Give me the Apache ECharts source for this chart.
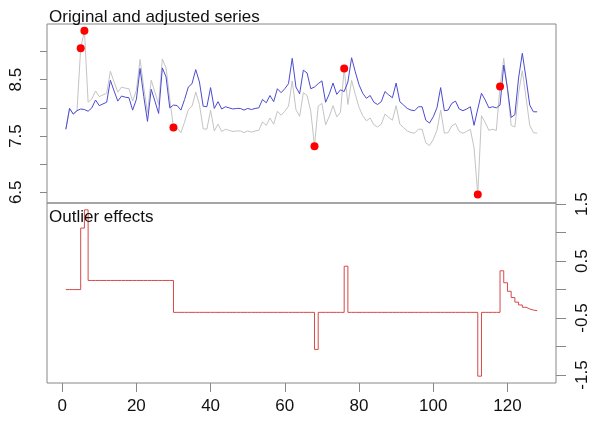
<!DOCTYPE html>
<html>
<head>
<meta charset="utf-8">
<script src="https://cdn.jsdelivr.net/npm/echarts@6/dist/echarts.min.js"></script>
<style>
  html, body { margin: 0; padding: 0; background: #fff; }
  #main { width: 592px; height: 426px; }
</style>
</head>
<body>
<div id="main"></div>
<script>
// series, t = 1..128
const original = [
  7.62, 7.99, 7.89, 7.95, 9.06, 9.37, 8.10, 8.16, 8.30, 8.20,
  8.23, 8.26, 8.65, 8.46, 8.28, 8.37, 8.35, 8.34, 8.12, 8.31,
  8.86, 8.36, 7.92, 8.49, 8.28, 8.06, 8.87, 8.71, 8.16, 7.65,
  7.64, 7.56, 7.75, 7.97, 8.03, 8.28, 8.06, 7.63, 7.62, 7.96,
  7.59, 7.71, 7.58, 7.62, 7.60, 7.58, 7.59, 7.59, 7.56, 7.59,
  7.57, 7.59, 7.60, 7.75, 7.69, 7.82, 7.71, 7.94, 7.87, 7.94,
  8.03, 8.48, 7.97, 7.85, 8.27, 8.22, 7.94, 7.32, 8.03, 8.08,
  7.70, 7.85, 8.04, 7.84, 7.92, 8.70, 8.06, 8.49, 8.24, 8.01,
  7.86, 7.77, 7.82, 7.70, 7.66, 7.71, 7.89, 7.83, 7.78, 8.04,
  7.71, 7.65, 7.59, 7.56, 7.55, 7.62, 7.62, 7.38, 7.33, 7.44,
  7.60, 7.96, 7.55, 7.56, 7.68, 7.72, 7.58, 7.55, 7.58, 7.62,
  7.29, 6.46, 7.86, 7.74, 7.60, 7.62, 7.60, 8.38, 8.88, 8.32,
  7.69, 7.66, 8.26, 8.66, 8.19, 7.69, 7.56, 7.55
]
const adjusted = [
  7.62, 7.99, 7.89, 7.95, 7.98, 7.97, 7.94, 8.00, 8.14, 8.04,
  8.07, 8.10, 8.49, 8.30, 8.12, 8.21, 8.19, 8.18, 7.96, 8.15,
  8.70, 8.20, 7.76, 8.33, 8.12, 7.90, 8.71, 8.55, 8.00, 8.05,
  8.04, 7.96, 8.15, 8.37, 8.43, 8.68, 8.46, 8.03, 8.02, 8.36,
  7.99, 8.11, 7.98, 8.02, 8.00, 7.98, 7.99, 7.99, 7.96, 7.99,
  7.97, 7.99, 8.00, 8.15, 8.09, 8.22, 8.11, 8.34, 8.27, 8.34,
  8.43, 8.88, 8.37, 8.25, 8.67, 8.62, 8.34, 8.37, 8.43, 8.48,
  8.10, 8.25, 8.44, 8.24, 8.32, 8.29, 8.46, 8.89, 8.64, 8.41,
  8.26, 8.17, 8.22, 8.10, 8.06, 8.11, 8.29, 8.23, 8.18, 8.44,
  8.11, 8.05, 7.99, 7.96, 7.95, 8.02, 8.02, 7.78, 7.73, 7.84,
  8.00, 8.36, 7.95, 7.96, 8.08, 8.12, 7.98, 7.95, 7.98, 8.02,
  7.69, 7.98, 8.26, 8.14, 8.00, 8.02, 8.00, 8.05, 8.76, 8.35,
  7.83, 7.88, 8.53, 8.97, 8.53, 8.05, 7.93, 7.93
]
const effects = [
  0, 0, 0, 0, 1.08, 1.40, 0.16, 0.16, 0.16, 0.16,
  0.16, 0.16, 0.16, 0.16, 0.16, 0.16, 0.16, 0.16, 0.16, 0.16,
  0.16, 0.16, 0.16, 0.16, 0.16, 0.16, 0.16, 0.16, 0.16, -0.40,
  -0.40, -0.40, -0.40, -0.40, -0.40, -0.40, -0.40, -0.40, -0.40, -0.40,
  -0.40, -0.40, -0.40, -0.40, -0.40, -0.40, -0.40, -0.40, -0.40, -0.40,
  -0.40, -0.40, -0.40, -0.40, -0.40, -0.40, -0.40, -0.40, -0.40, -0.40,
  -0.40, -0.40, -0.40, -0.40, -0.40, -0.40, -0.40, -1.05, -0.40, -0.40,
  -0.40, -0.40, -0.40, -0.40, -0.40, 0.41, -0.40, -0.40, -0.40, -0.40,
  -0.40, -0.40, -0.40, -0.40, -0.40, -0.40, -0.40, -0.40, -0.40, -0.40,
  -0.40, -0.40, -0.40, -0.40, -0.40, -0.40, -0.40, -0.40, -0.40, -0.40,
  -0.40, -0.40, -0.40, -0.40, -0.40, -0.40, -0.40, -0.40, -0.40, -0.40,
  -0.40, -1.52, -0.40, -0.40, -0.40, -0.40, -0.40, 0.33, 0.12, -0.03,
  -0.14, -0.22, -0.27, -0.31, -0.34, -0.36, -0.37, -0.38
]
const outlierIdx = [5, 6, 30, 68, 76, 112, 118]

const xTicks = [0, 20, 40, 60, 80, 100, 120]
const topTicks = [6.5, 7, 7.5, 8, 8.5, 9]
const topLabels = [6.5, 7.5, 8.5]
const botTicks = [-1.5, -1, -0.5, 0, 0.5, 1, 1.5]
const botLabels = [-1.5, -0.5, 0.5, 1.5]

const FONT = 'Liberation Sans, Arial, sans-serif'
const LINE = '#888'
const TXT = '#111'

const pairs = arr => arr.map((v, i) => [i + 1, v])

const myChart = echarts.init(document.getElementById('main'), null, { renderer: 'canvas' })
myChart.setOption({
  animation: false,
  backgroundColor: '#fff',
  title: [
    { text: 'Original and adjusted series', left: 44, top: 4,
      textStyle: { fontSize: 17, fontWeight: 'normal', color: TXT, fontFamily: FONT } },
    { text: 'Outlier effects', left: 44, top: 204,
      textStyle: { fontSize: 17, fontWeight: 'normal', color: TXT, fontFamily: FONT } }
  ],
  grid: [
    { left: 47, right: 36, top: 24, height: 179, show: true, borderColor: LINE, borderWidth: 1, backgroundColor: 'transparent' },
    { left: 47, right: 36, top: 203, height: 180, show: true, borderColor: LINE, borderWidth: 1, backgroundColor: 'transparent' }
  ],
  xAxis: [
    { gridIndex: 0, type: 'value', min: -4.08, max: 133.08, show: false },
    {
      gridIndex: 1, type: 'value', min: -4.08, max: 133.08, position: 'bottom',
      splitLine: { show: false },
      axisLine: { show: false, onZero: false },
      axisTick: { show: true, length: 9, customValues: xTicks, lineStyle: { color: LINE } },
      axisLabel: { customValues: xTicks, fontSize: 17, color: TXT, fontFamily: FONT, margin: 15 }
    }
  ],
  yAxis: [
    {
      gridIndex: 0, type: 'value', min: 6.31, max: 9.49, position: 'left',
      splitLine: { show: false },
      axisLine: { show: false, onZero: false },
      axisTick: { show: true, length: 7, customValues: topTicks, lineStyle: { color: LINE } },
      axisLabel: { customValues: topLabels, rotate: 90, fontSize: 17, color: TXT, fontFamily: FONT, margin: 22 }
    },
    {
      gridIndex: 1, type: 'value', position: 'right', min: -1.64, max: 1.52,
      splitLine: { show: false },
      axisLine: { show: false, onZero: false },
      axisTick: { show: true, length: 10, customValues: botTicks, lineStyle: { color: LINE } },
      axisLabel: { customValues: botLabels, rotate: 90, fontSize: 17, color: TXT, fontFamily: FONT, margin: 18 }
    }
  ],
  series: [
    {
      name: 'original', type: 'line', xAxisIndex: 0, yAxisIndex: 0,
      data: pairs(original), showSymbol: false, symbol: 'none',
      lineStyle: { color: '#c4c4c4', width: 1 }, z: 2
    },
    {
      name: 'adjusted', type: 'line', xAxisIndex: 0, yAxisIndex: 0,
      data: pairs(adjusted), showSymbol: false, symbol: 'none',
      lineStyle: { color: '#4b4bd2', width: 1 }, z: 3
    },
    {
      name: 'outliers', type: 'scatter', xAxisIndex: 0, yAxisIndex: 0,
      data: outlierIdx.map(i => [i, original[i - 1]]),
      symbolSize: 8, itemStyle: { color: '#f00', opacity: 1 }, z: 4
    },
    {
      name: 'effects', type: 'line', xAxisIndex: 1, yAxisIndex: 1, step: 'end',
      data: pairs(effects), showSymbol: false, symbol: 'none',
      lineStyle: { color: '#d84848', width: 1 }, z: 3
    }
  ]
})
</script>
</body>
</html>
